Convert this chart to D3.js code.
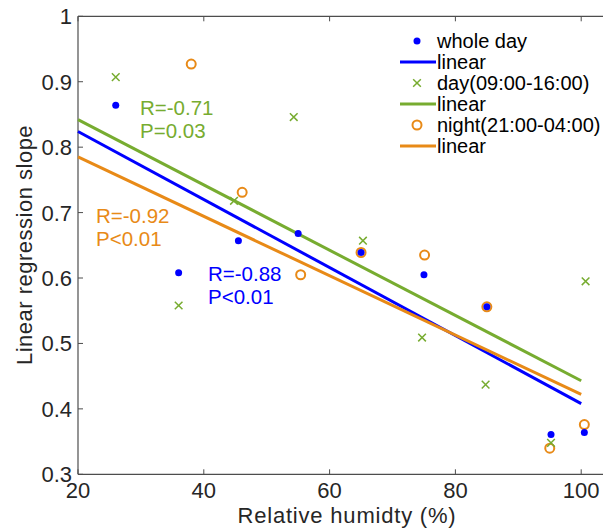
<!DOCTYPE html>
<html>
<head>
<meta charset="utf-8">
<script src="https://cdn.jsdelivr.net/npm/d3@7"></script>
<style>
  body { margin: 0; background: #fff; }
  svg text { font-family: "Liberation Sans", Arial, sans-serif; }
</style>
</head>
<body>
<div id="vis"></div>
<script>
// humidity (%) and slopes
const wholeX = [26, 36, 45.5, 55, 65, 75, 85, 95.2, 100.5];
const wholeY = [0.864, 0.608, 0.657, 0.668, 0.639, 0.605, 0.556, 0.361, 0.364];
const dayX = [26, 36, 44.8, 54.3, 65.3, 74.7, 84.8, 95.2, 100.7];
const dayY = [0.907, 0.558, 0.718, 0.846, 0.657, 0.509, 0.437, 0.348, 0.595];
const nightX = [38, 46.1, 55.4, 65, 75.1, 85, 95, 100.5];
const nightY = [0.927, 0.731, 0.605, 0.639, 0.635, 0.556, 0.340, 0.376];

// fitted lines, end values at 20 and 100 %
const fitX = [20, 100];
const fitWhole = [0.824, 0.408];
const fitDay = [0.842, 0.443];
const fitNight = [0.785, 0.422];

const xTicks = [20, 40, 60, 80, 100];
const yTicks = [0.3, 0.4, 0.5, 0.6, 0.7, 0.8, 0.9, 1];

const BLUE = "#0000ff", GREEN = "#77ac30", ORANGE = "#e88a17";

const WIDTH = 603, HEIGHT = 529;
const margins = { top: 16, bottom: 55, left: 78, right: 0 };

const svg = d3.select("#vis").append("svg")
  .attr("width", WIDTH).attr("height", HEIGHT);

const x = d3.scaleLinear().domain([20, 104]).range([margins.left, margins.left + 84 * 6.29]);
const y = d3.scaleLinear().domain([0.3, 1]).range([474.3, 16.3]);

// axes box (left, bottom, top)
const axCol = "#4d4d4d";
svg.append("line").attr("x1", x(20)).attr("x2", x(20)).attr("y1", y(1)).attr("y2", y(0.3))
  .attr("stroke", axCol).attr("stroke-width", 1.2);
svg.append("line").attr("x1", x(20)).attr("x2", WIDTH).attr("y1", y(0.3)).attr("y2", y(0.3))
  .attr("stroke", axCol).attr("stroke-width", 1.2);
svg.append("line").attr("x1", x(20)).attr("x2", WIDTH).attr("y1", y(1)).attr("y2", y(1))
  .attr("stroke", axCol).attr("stroke-width", 1.2);

// ticks
const tk = svg.append("g").attr("stroke", axCol).attr("stroke-width", 1);
xTicks.forEach(t => {
  tk.append("line").attr("x1", x(t)).attr("x2", x(t)).attr("y1", y(0.3)).attr("y2", y(0.3) - 5);
  tk.append("line").attr("x1", x(t)).attr("x2", x(t)).attr("y1", y(1)).attr("y2", y(1) + 5);
});
yTicks.forEach(t => {
  tk.append("line").attr("x1", x(20)).attr("x2", x(20) + 5).attr("y1", y(t)).attr("y2", y(t));
});

const txtCol = "#262626";
svg.append("g").selectAll("text").data(xTicks).join("text")
  .attr("x", d => x(d)).attr("y", 498)
  .attr("text-anchor", "middle").attr("font-size", 22).attr("fill", txtCol)
  .text(d => d);
svg.append("g").selectAll("text").data(yTicks).join("text")
  .attr("x", 72).attr("y", d => y(d) + 8)
  .attr("text-anchor", "end").attr("font-size", 22).attr("fill", txtCol)
  .text(d => d3.format("")(d));

svg.append("text").attr("x", 347).attr("y", 523).attr("text-anchor", "middle")
  .attr("font-size", 22).attr("letter-spacing", 0.8).attr("fill", txtCol).text("Relative humidty (%)");
svg.append("text").attr("transform", `translate(32, 245) rotate(-90)`)
  .attr("text-anchor", "middle").attr("font-size", 22).attr("letter-spacing", 0.5).attr("fill", txtCol)
  .text("Linear regression slope");

// fit lines
const line = d3.line().x(d => x(d[0])).y(d => y(d[1]));
[[fitDay, GREEN], [fitWhole, BLUE], [fitNight, ORANGE]].forEach(([vals, c]) => {
  svg.append("path").datum(fitX.map((v, i) => [v, vals[i]]))
    .attr("d", line).attr("fill", "none").attr("stroke", c).attr("stroke-width", 3);
});

// points
svg.append("g").selectAll("circle").data(nightX.map((v, i) => [v, nightY[i]])).join("circle")
  .attr("cx", d => x(d[0])).attr("cy", d => y(d[1])).attr("r", 4.5)
  .attr("fill", "none").attr("stroke", ORANGE).attr("stroke-width", 2);
svg.append("g").selectAll("circle").data(wholeX.map((v, i) => [v, wholeY[i]])).join("circle")
  .attr("cx", d => x(d[0])).attr("cy", d => y(d[1])).attr("r", 3.5).attr("fill", BLUE);
const cross = d3.symbol().type(d3.symbolX).size(40);
svg.append("g").selectAll("path").data(dayX.map((v, i) => [v, dayY[i]])).join("path")
  .attr("transform", d => `translate(${x(d[0])},${y(d[1])})`)
  .attr("d", cross).attr("fill", "none").attr("stroke", GREEN).attr("stroke-width", 1.5);

// annotations
const notes = [
  { t: ["R=-0.71", "P=0.03"], px: 140, py: 115, c: GREEN },
  { t: ["R=-0.92", "P<0.01"], px: 96, py: 223, c: ORANGE },
  { t: ["R=-0.88", "P<0.01"], px: 208, py: 281, c: BLUE }
];
notes.forEach(n => {
  n.t.forEach((s, i) => {
    svg.append("text").attr("x", n.px).attr("y", n.py + i * 23)
      .attr("font-size", 20.5).attr("fill", n.c).text(s);
  });
});

// legend
const leg = svg.append("g");
const legRows = [
  { kind: "dot", c: BLUE, label: "whole day" },
  { kind: "line", c: BLUE, label: "linear" },
  { kind: "x", c: GREEN, label: "day(09:00-16:00)" },
  { kind: "line", c: GREEN, label: "linear" },
  { kind: "o", c: ORANGE, label: "night(21:00-04:00)" },
  { kind: "line", c: ORANGE, label: "linear" }
];
legRows.forEach((r, i) => {
  const cy = 41 + i * 21;
  if (r.kind === "dot") leg.append("circle").attr("cx", 417).attr("cy", cy).attr("r", 3.5).attr("fill", r.c);
  if (r.kind === "o") leg.append("circle").attr("cx", 417).attr("cy", cy).attr("r", 4.5)
    .attr("fill", "none").attr("stroke", r.c).attr("stroke-width", 2);
  if (r.kind === "x") leg.append("path").attr("transform", `translate(417,${cy})`)
    .attr("d", cross).attr("fill", "none").attr("stroke", r.c).attr("stroke-width", 1.5);
  if (r.kind === "line") leg.append("line").attr("x1", 400).attr("x2", 436)
    .attr("y1", cy).attr("y2", cy).attr("stroke", r.c).attr("stroke-width", 3);
  leg.append("text").attr("x", 437).attr("y", cy + 7).attr("font-size", 20)
    .attr("fill", "#000").text(r.label);
});
</script>
</body>
</html>
